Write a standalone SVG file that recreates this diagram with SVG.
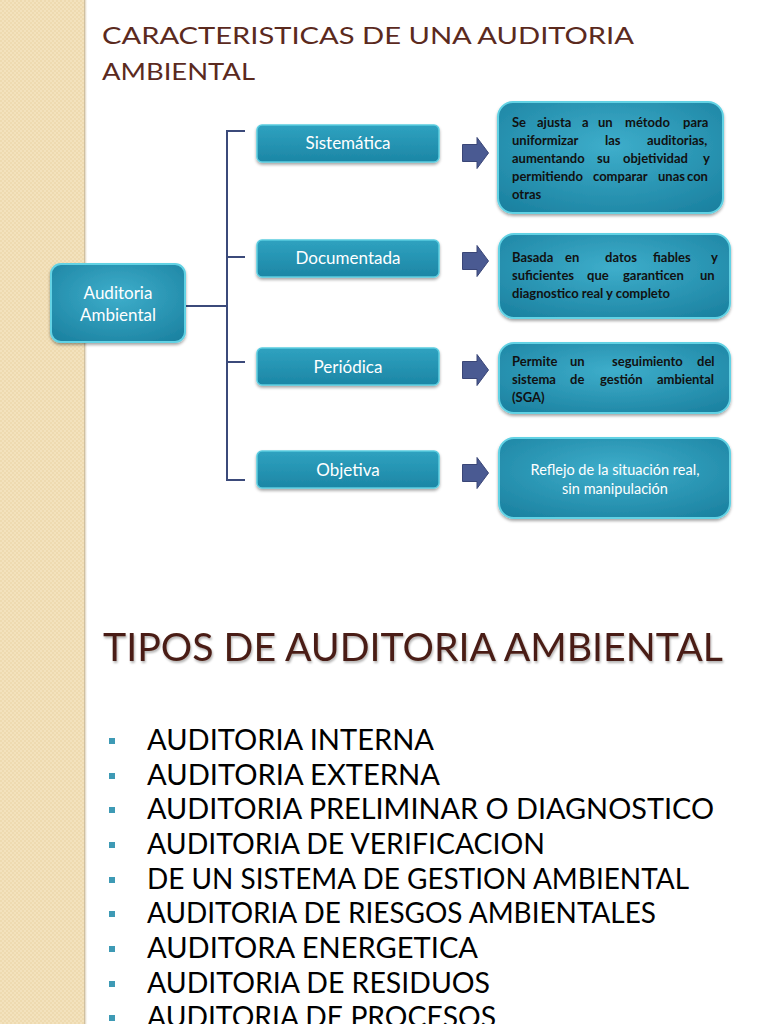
<svg xmlns="http://www.w3.org/2000/svg" width="768" height="1024" viewBox="0 0 768 1024">
<defs>
<pattern id="tex" width="4" height="4" patternUnits="userSpaceOnUse">
<rect width="4" height="4" fill="#f3e2bd"/>
<rect width="2" height="2" fill="#eedab0"/>
<rect x="2" y="2" width="2" height="2" fill="#eedab0"/>
</pattern>
<linearGradient id="edge" x1="0" x2="1" y1="0" y2="0">
<stop offset="0" stop-color="#c2ad84"/>
<stop offset="1" stop-color="#ffffff" stop-opacity="0"/>
</linearGradient>
<radialGradient id="boxg" cx="0.5" cy="0.4" r="0.75">
<stop offset="0" stop-color="#3eaecb"/>
<stop offset="1" stop-color="#1a809f"/>
</radialGradient>
<linearGradient id="labg" x1="0" x2="0" y1="0" y2="1">
<stop offset="0" stop-color="#2fa2c0"/>
<stop offset="1" stop-color="#1c86a5"/>
</linearGradient>
<filter id="sh" x="-10%" y="-10%" width="120%" height="130%">
<feDropShadow dx="0" dy="2" stdDeviation="1.5" flood-color="#000" flood-opacity="0.35"/>
</filter>
<filter id="tsh" x="-5%" y="-20%" width="110%" height="150%">
<feDropShadow dx="1" dy="2" stdDeviation="1.2" flood-color="#000" flood-opacity="0.3"/>
</filter>
<symbol id="arr" viewBox="0 0 27 32" overflow="visible">
<path d="M0.5 7.5 H15 V0.5 L26.5 16 L15 31.5 V24.5 H0.5 Z" fill="#4a5a92" stroke="#3a4677" stroke-width="1"/>
</symbol>
</defs>
<style>
.lab{font-family:Lato,"Liberation Sans",sans-serif;font-size:17px;fill:#ffffff;text-anchor:middle}
.desc{font-family:Lato,"Liberation Sans",sans-serif;font-size:13px;font-weight:bold;fill:#111111}
.item{font-family:Lato,"Liberation Sans",sans-serif;font-size:28px;fill:#000000}
.bul{fill:#3e9ab5}
.dbox{fill:url(#boxg);stroke:#62d2e4;stroke-width:2}
.lbox{fill:url(#labg);stroke:#5ccde0;stroke-width:1.5}
.conn{stroke:#3b4a7a;stroke-width:2;fill:none}
</style>
<rect width="768" height="1024" fill="#ffffff"/>
<rect x="0" y="0" width="84" height="1024" fill="url(#tex)"/>
<rect x="84" y="0" width="4" height="1024" fill="url(#edge)"/>

<g id="title" fill="#5b2a1e" font-family="Lato,'Liberation Sans',sans-serif" font-size="24">
<text x="102" y="44" textLength="532" lengthAdjust="spacingAndGlyphs">CARACTERISTICAS DE UNA AUDITORIA</text>
<text x="102" y="80" textLength="153" lengthAdjust="spacingAndGlyphs">AMBIENTAL</text>
</g>

<g id="connectors">
<path class="conn" d="M186 306 H227"/>
<path class="conn" d="M245 131 H227 V480 H245"/>
<path class="conn" d="M227 257 H245"/>
<path class="conn" d="M227 362 H245"/>
<use href="#arr" x="462" y="137" width="27" height="32"/>
<use href="#arr" x="462" y="245" width="27" height="32"/>
<use href="#arr" x="462" y="354" width="27" height="32"/>
<use href="#arr" x="462" y="457" width="27" height="32"/>
</g>

<g id="node-auditoria">
<rect x="51" y="264" width="134" height="78" rx="10" class="dbox" filter="url(#sh)"/>
<text class="lab" x="118" y="299">Auditoria</text>
<text class="lab" x="118" y="321">Ambiental</text>
</g>
<g id="node-sistematica">
<rect x="257" y="125" width="182" height="37" rx="5" class="lbox" filter="url(#sh)"/>
<text class="lab" x="348" y="149">Sistemática</text>
</g>
<g id="node-documentada">
<rect x="257" y="240" width="182" height="37" rx="5" class="lbox" filter="url(#sh)"/>
<text class="lab" x="348" y="264">Documentada</text>
</g>
<g id="node-periodica">
<rect x="257" y="348" width="182" height="37" rx="5" class="lbox" filter="url(#sh)"/>
<text class="lab" x="348" y="373">Periódica</text>
</g>
<g id="node-objetiva">
<rect x="257" y="451" width="182" height="37" rx="5" class="lbox" filter="url(#sh)"/>
<text class="lab" x="348" y="476">Objetiva</text>
</g>

<g id="desc-sistematica">
<rect x="498" y="102" width="225" height="111" rx="15" class="dbox" filter="url(#sh)"/>
<text class="desc" y="127"><tspan x="512">Se</tspan><tspan x="537">ajusta</tspan><tspan x="582">a</tspan><tspan x="598">un</tspan><tspan x="625">método</tspan><tspan x="683">para</tspan></text>
<text class="desc" y="145"><tspan x="512">uniformizar</tspan><tspan x="605">las</tspan><tspan x="647">auditorias,</tspan></text>
<text class="desc" y="163"><tspan x="512">aumentando</tspan><tspan x="597">su</tspan><tspan x="623">objetividad</tspan><tspan x="703">y</tspan></text>
<text class="desc" y="181"><tspan x="512">permitiendo</tspan><tspan x="593">comparar</tspan><tspan x="658">unas</tspan><tspan x="687">con</tspan></text>
<text class="desc" x="512" y="199">otras</text>
</g>
<g id="desc-documentada">
<rect x="499" y="234" width="231" height="84" rx="15" class="dbox" filter="url(#sh)"/>
<text class="desc" y="262"><tspan x="512">Basada</tspan><tspan x="565">en</tspan><tspan x="605">datos</tspan><tspan x="653">fiables</tspan><tspan x="711">y</tspan></text>
<text class="desc" y="280"><tspan x="512">suficientes</tspan><tspan x="587">que</tspan><tspan x="623">garanticen</tspan><tspan x="700">un</tspan></text>
<text class="desc" x="512" y="298">diagnostico real y completo</text>
</g>
<g id="desc-periodica">
<rect x="499" y="343" width="231" height="70" rx="15" class="dbox" filter="url(#sh)"/>
<text class="desc" y="366"><tspan x="512">Permite</tspan><tspan x="570">un</tspan><tspan x="612">seguimiento</tspan><tspan x="697">del</tspan></text>
<text class="desc" y="384"><tspan x="512">sistema</tspan><tspan x="570">de</tspan><tspan x="600">gestión</tspan><tspan x="657">ambiental</tspan></text>
<text class="desc" x="512" y="402">(SGA)</text>
</g>
<g id="desc-objetiva">
<rect x="499" y="438" width="231" height="80" rx="15" class="dbox" filter="url(#sh)"/>
<text class="lab" style="font-size:14.5px" x="615" y="475">Reflejo de la situación real,</text>
<text class="lab" style="font-size:14.5px" x="615" y="494">sin manipulación</text>
</g>

<g id="tipos-title">
<text x="103" y="661" fill="#4a1d13" font-family="Lato,'Liberation Sans',sans-serif" font-size="39" textLength="620" lengthAdjust="spacingAndGlyphs" filter="url(#tsh)">TIPOS DE AUDITORIA AMBIENTAL</text>
</g>

<g id="tipos-list">
<rect class="bul" x="109" y="738" width="6" height="6"/>
<rect class="bul" x="109" y="773" width="6" height="6"/>
<rect class="bul" x="109" y="807" width="6" height="6"/>
<rect class="bul" x="109" y="842" width="6" height="6"/>
<rect class="bul" x="109" y="877" width="6" height="6"/>
<rect class="bul" x="109" y="911" width="6" height="6"/>
<rect class="bul" x="109" y="946" width="6" height="6"/>
<rect class="bul" x="109" y="981" width="6" height="6"/>
<rect class="bul" x="109" y="1015" width="6" height="6"/>
<text class="item" x="147" y="750" textLength="287" lengthAdjust="spacingAndGlyphs">AUDITORIA INTERNA</text>
<text class="item" x="147" y="785" textLength="293" lengthAdjust="spacingAndGlyphs">AUDITORIA EXTERNA</text>
<text class="item" x="147" y="819" textLength="567" lengthAdjust="spacingAndGlyphs">AUDITORIA PRELIMINAR O DIAGNOSTICO</text>
<text class="item" x="147" y="854" textLength="398" lengthAdjust="spacingAndGlyphs">AUDITORIA DE VERIFICACION</text>
<text class="item" x="147" y="889" textLength="542" lengthAdjust="spacingAndGlyphs">DE UN SISTEMA DE GESTION AMBIENTAL</text>
<text class="item" x="147" y="923" textLength="509" lengthAdjust="spacingAndGlyphs">AUDITORIA DE RIESGOS AMBIENTALES</text>
<text class="item" x="147" y="958" textLength="331" lengthAdjust="spacingAndGlyphs">AUDITORA ENERGETICA</text>
<text class="item" x="147" y="993" textLength="343" lengthAdjust="spacingAndGlyphs">AUDITORIA DE RESIDUOS</text>
<text class="item" x="147" y="1027" textLength="349" lengthAdjust="spacingAndGlyphs">AUDITORIA DE PROCESOS</text>
</g>
</svg>
